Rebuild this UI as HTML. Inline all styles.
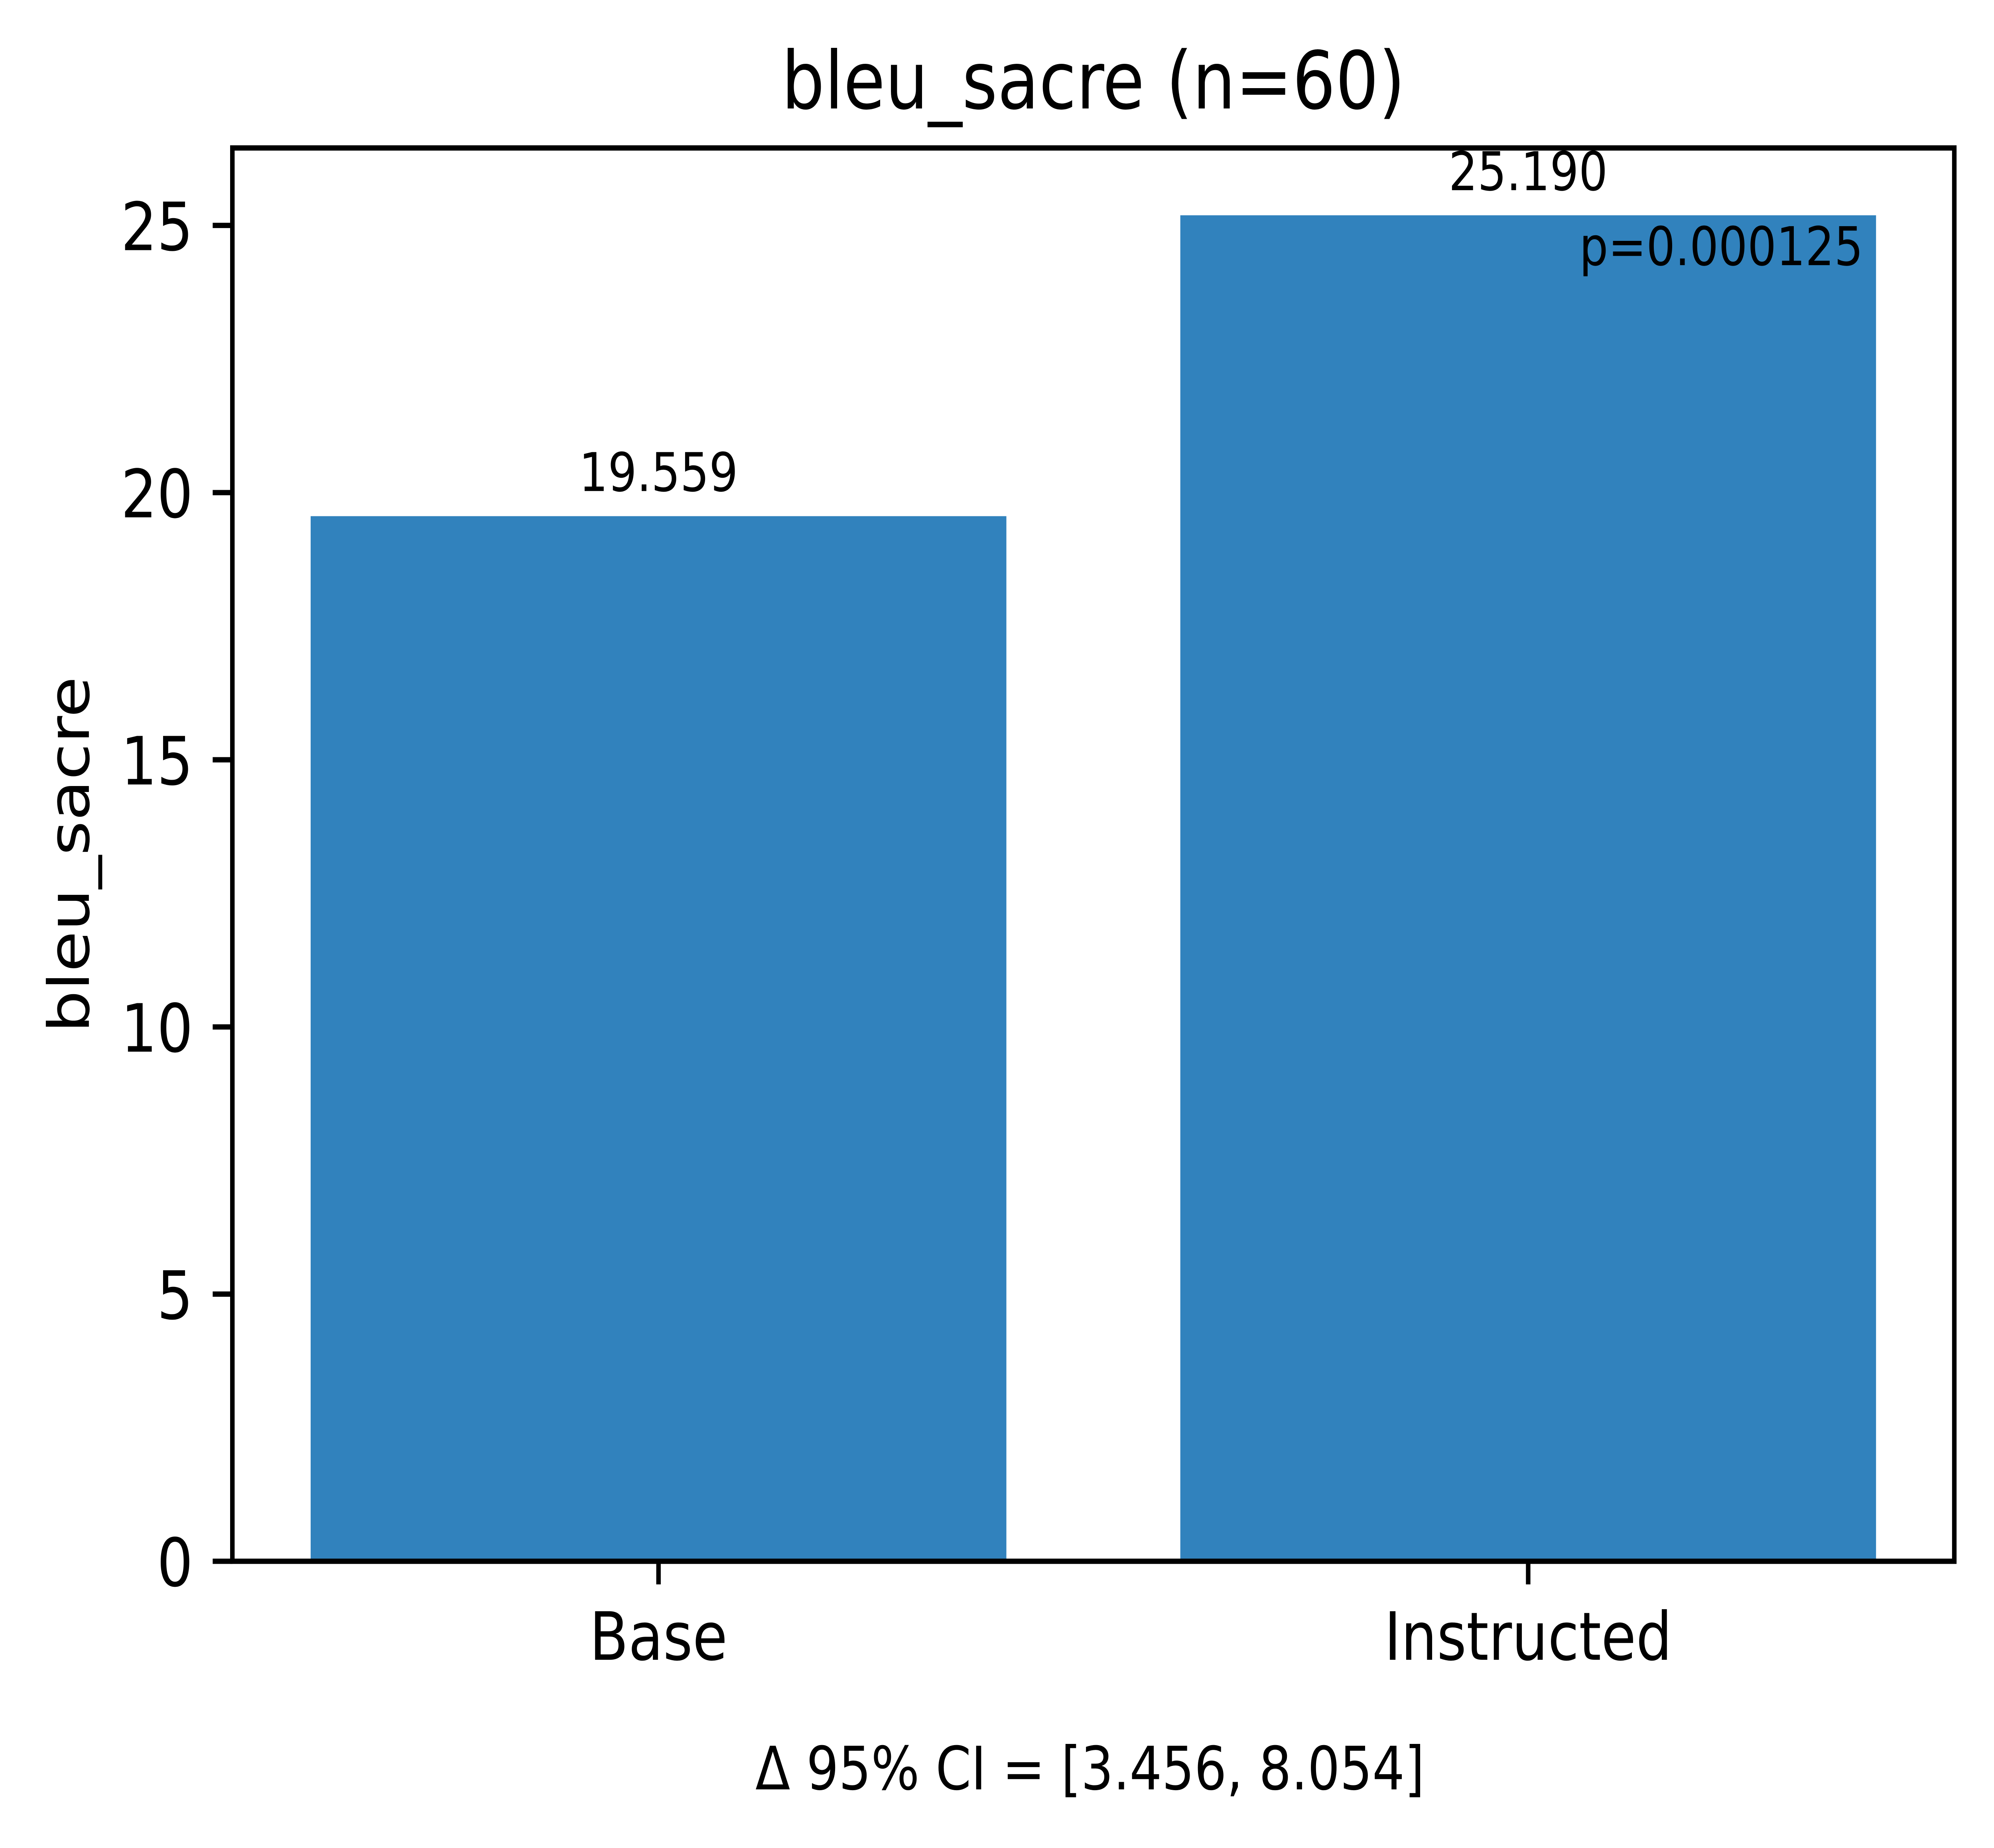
<!DOCTYPE html>
<html><head><meta charset="utf-8"><style>
html,body{margin:0;padding:0;background:#fff;width:100%;height:100%;overflow:hidden;}
svg{display:block;width:100vw;height:100vh;}
text{font-family:"DejaVu Sans","Liberation Sans",sans-serif;fill:#000;}
</style></head><body>
<svg id="chart" viewBox="0 0 5878 4634" preserveAspectRatio="none" xmlns="http://www.w3.org/2000/svg">
<rect x="0" y="0" width="5878" height="4634" fill="#fff"/>
<g id="bars"></g>
<g id="ann"></g>
<g id="axes"></g>
<text x="3223" y="272" font-size="200" text-anchor="middle">bleu_sacre (n=60)</text>
<text x="262" y="2143" font-size="167" text-anchor="middle" transform="rotate(-90 262 2143)">bleu_sacre</text>
<text x="3213" y="4487" font-size="150" text-anchor="middle">Δ 95% CI = [3.456, 8.054]</text>
</svg>
<script>
const categories = ["Base", "Instructed"];
const values = [19.559, 25.190];
const valueLabels = ["19.559", "25.190"];
const yTicks = [0, 5, 10, 15, 20, 25];
const pText = "p=0.000125";

const NS = "http://www.w3.org/2000/svg";
const L = 685, R = 5761, T = 371, B = 3915;
const xMin = -0.49, xMax = 1.49, yMin = 0, yMax = 26.45;
function xs(v){ return L + (v - xMin) / (xMax - xMin) * (R - L); }
function ys(v){ return B - (v - yMin) / (yMax - yMin) * (B - T); }
function mk(tag, attrs, parent){ const e = document.createElementNS(NS, tag); for (const k in attrs) e.setAttribute(k, attrs[k]); parent.appendChild(e); return e; }

const barsG = document.getElementById("bars");
const annG = document.getElementById("ann");
const axesG = document.getElementById("axes");
const bw = 0.8;
categories.forEach((c, i) => {
  const x0 = xs(i - bw/2), x1 = xs(i + bw/2), y = ys(values[i]);
  const r = mk("rect", {x: x0, y: y, width: x1 - x0, height: B - y, fill: "#3182bd"}, barsG);
  
  
  const t = mk("text", {x: xs(i), y: y - 63, "font-size": 134, "text-anchor": "middle"}, annG);
  t.textContent = valueLabels[i];
  
  
  const tk = mk("line", {x1: xs(i), x2: xs(i), y1: B, y2: B + 58, stroke: "#000", "stroke-width": 13.3}, axesG);
  
  
  const tl = mk("text", {x: xs(i), y: 4162, "font-size": 167, "text-anchor": "middle"}, axesG);
  tl.textContent = c;
  
  
});
const last = values.length - 1;
const pt = mk("text", {x: xs(last + bw/2) - 38, y: ys(values[last]) + 125, "font-size": 134, "text-anchor": "end"}, annG);
pt.textContent = pText;



yTicks.forEach(v => {
  const y = ys(v);
  const tk = mk("line", {x1: L - 58, x2: L, y1: y, y2: y, stroke: "#000", "stroke-width": 13.3}, axesG);
  
  
  const tl = mk("text", {x: L - 116, y: y + 62, "font-size": 167, "text-anchor": "end"}, axesG);
  tl.textContent = String(v);
  
  
});
const frame = mk("rect", {x: L, y: T, width: R - L, height: B - T, fill: "none", stroke: "#000", "stroke-width": 13.3, "stroke-linejoin": "miter"}, axesG);


</script>
</body></html>
